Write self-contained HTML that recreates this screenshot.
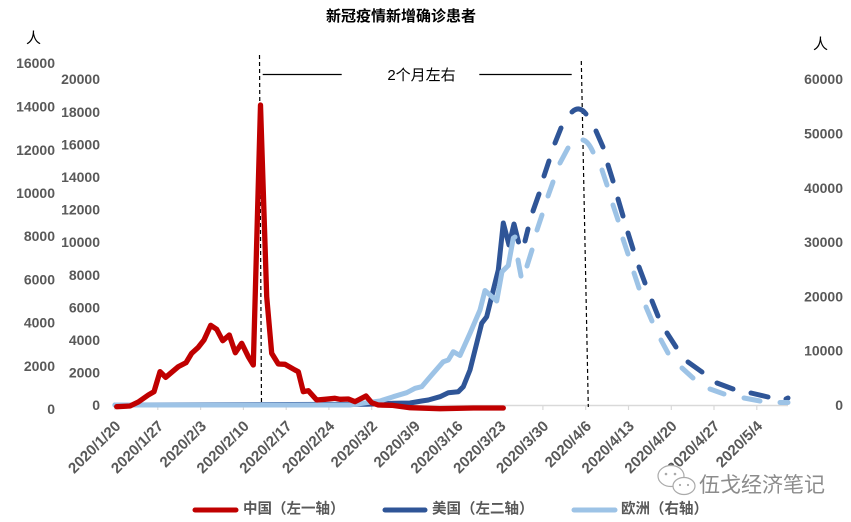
<!DOCTYPE html>
<html><head><meta charset="utf-8"><style>
html,body{margin:0;padding:0;background:#fff;}
svg{display:block;}
text{font-family:"Liberation Sans","Noto Sans CJK SC",sans-serif;}
.ax{font-size:14px;font-weight:bold;fill:#595959;}
.xt{font-size:15px;font-weight:bold;fill:#595959;}
.lg{font-size:14.5px;font-weight:bold;fill:#595959;}
</style></head><body>
<svg width="851" height="522" viewBox="0 0 851 522" xmlns="http://www.w3.org/2000/svg">
<rect width="851" height="522" fill="#fff"/>
<text x="401" y="21" text-anchor="middle" font-size="15" font-weight="bold" fill="#000">新冠疫情新增确诊患者</text>
<text x="33.5" y="43" text-anchor="middle" font-size="15" fill="#000">人</text>
<text x="820.5" y="49" text-anchor="middle" font-size="15" fill="#000">人</text>

<!-- left axis 1 (China) -->
<g class="ax" text-anchor="end">
<text x="55" y="68">16000</text>
<text x="55" y="111.6">14000</text>
<text x="55" y="154.8">12000</text>
<text x="55" y="198">10000</text>
<text x="55" y="241.2">8000</text>
<text x="55" y="284.4">6000</text>
<text x="55" y="327.6">4000</text>
<text x="55" y="370.8">2000</text>
<text x="55" y="414">0</text>
</g>
<!-- left axis 2 (US) -->
<g class="ax" text-anchor="end">
<text x="100" y="84.2">20000</text>
<text x="100" y="116.8">18000</text>
<text x="100" y="149.4">16000</text>
<text x="100" y="182">14000</text>
<text x="100" y="214.6">12000</text>
<text x="100" y="247.2">10000</text>
<text x="100" y="279.8">8000</text>
<text x="100" y="312.4">6000</text>
<text x="100" y="345">4000</text>
<text x="100" y="377.6">2000</text>
<text x="100" y="410.2">0</text>
</g>
<!-- right axis -->
<g class="ax" text-anchor="end">
<text x="843" y="84.2">60000</text>
<text x="843" y="138.5">50000</text>
<text x="843" y="192.8">40000</text>
<text x="843" y="247.1">30000</text>
<text x="843" y="301.4">20000</text>
<text x="843" y="355.7">10000</text>
<text x="843" y="410">0</text>
</g>

<!-- x axis -->
<line x1="115" y1="405.5" x2="788" y2="405.5" stroke="#D9D9D9" stroke-width="1.5"/>
<g stroke="#D9D9D9" stroke-width="1.2">
<line x1="115" y1="405" x2="115" y2="410"/>
<line x1="157.8" y1="405" x2="157.8" y2="410"/>
<line x1="200.6" y1="405" x2="200.6" y2="410"/>
<line x1="243.4" y1="405" x2="243.4" y2="410"/>
<line x1="286.2" y1="405" x2="286.2" y2="410"/>
<line x1="328.9" y1="405" x2="328.9" y2="410"/>
<line x1="371.7" y1="405" x2="371.7" y2="410"/>
<line x1="414.5" y1="405" x2="414.5" y2="410"/>
<line x1="457.3" y1="405" x2="457.3" y2="410"/>
<line x1="500.1" y1="405" x2="500.1" y2="410"/>
<line x1="542.9" y1="405" x2="542.9" y2="410"/>
<line x1="585.7" y1="405" x2="585.7" y2="410"/>
<line x1="628.5" y1="405" x2="628.5" y2="410"/>
<line x1="671.3" y1="405" x2="671.3" y2="410"/>
<line x1="714" y1="405" x2="714" y2="410"/>
<line x1="756.8" y1="405" x2="756.8" y2="410"/>
</g>
<g class="xt" text-anchor="end">
<text transform="translate(121.5,427) rotate(-45)">2020/1/20</text>
<text transform="translate(164.3,427) rotate(-45)">2020/1/27</text>
<text transform="translate(207.1,427) rotate(-45)">2020/2/3</text>
<text transform="translate(249.9,427) rotate(-45)">2020/2/10</text>
<text transform="translate(292.7,427) rotate(-45)">2020/2/17</text>
<text transform="translate(335.4,427) rotate(-45)">2020/2/24</text>
<text transform="translate(378.2,427) rotate(-45)">2020/3/2</text>
<text transform="translate(421,427) rotate(-45)">2020/3/9</text>
<text transform="translate(463.8,427) rotate(-45)">2020/3/16</text>
<text transform="translate(506.6,427) rotate(-45)">2020/3/23</text>
<text transform="translate(549.4,427) rotate(-45)">2020/3/30</text>
<text transform="translate(592.2,427) rotate(-45)">2020/4/6</text>
<text transform="translate(635,427) rotate(-45)">2020/4/13</text>
<text transform="translate(677.8,427) rotate(-45)">2020/4/20</text>
<text transform="translate(720.5,427) rotate(-45)">2020/4/27</text>
<text transform="translate(763.3,427) rotate(-45)">2020/5/4</text>
</g>

<!-- annotation -->
<line x1="259.5" y1="55" x2="261.5" y2="407" stroke="#000" stroke-width="1.2" stroke-dasharray="4,3"/>
<line x1="581.3" y1="61" x2="588.3" y2="407" stroke="#000" stroke-width="1.2" stroke-dasharray="4,3"/>
<line x1="262.7" y1="74.5" x2="341.7" y2="74.5" stroke="#000" stroke-width="1.2"/>
<line x1="479.3" y1="74.5" x2="571.7" y2="74.5" stroke="#000" stroke-width="1.2"/>
<text x="421.5" y="80" text-anchor="middle" font-size="15" fill="#000">2个月左右</text>

<!-- US solid -->
<polyline fill="none" stroke="#2F5597" stroke-width="5" stroke-linejoin="round" stroke-linecap="round"
points="115,405 366.7,404.3 393.3,403.3 410,403 421.7,401 428.3,400 440,396.7 448.3,392.7 458.3,391.7 463.3,386.7 470,370 476.7,343.3 481.7,323.3 486.7,316.7 493.3,290 498.3,270 503.3,223 509,245 514,224 518.5,242"/>
<!-- US dashed -->
<g fill="none" stroke="#2F5597" stroke-width="5" stroke-linecap="round">
<line x1="525" y1="241" x2="528" y2="229"/>
<line x1="533" y1="211" x2="539" y2="194"/>
<line x1="544" y1="176" x2="549" y2="161"/>
<line x1="555" y1="143" x2="561" y2="128"/>
<path d="M572,112 Q579,105 586,114"/>
<line x1="596" y1="131" x2="603" y2="147"/>
<line x1="608" y1="165" x2="613" y2="181"/>
<line x1="618" y1="199" x2="623" y2="216"/>
<line x1="628" y1="233" x2="633" y2="249"/>
<line x1="639" y1="267" x2="645" y2="283"/>
<line x1="652" y1="301" x2="658" y2="316"/>
<line x1="667" y1="333" x2="676" y2="347"/>
<line x1="688" y1="362" x2="702" y2="372"/>
<line x1="717" y1="383" x2="733" y2="389"/>
<line x1="751" y1="393" x2="768" y2="397"/>
<line x1="786" y1="399" x2="788" y2="398"/>
</g>

<!-- EU solid -->
<polyline fill="none" stroke="#9DC3E6" stroke-width="5" stroke-linejoin="round" stroke-linecap="round"
points="115,405 350,405 366.7,402.7 380,401 393.3,396.7 406.7,392.7 415,388.3 421.7,386.7 431.7,375 443.3,361.7 448.3,360 453.3,351.7 460,355.5 470,333.3 480,310 485,290.5 496.7,301 502,271.7 508.3,265.5 513.3,238 515,237"/>
<!-- EU dashed -->
<g fill="none" stroke="#9DC3E6" stroke-width="5" stroke-linecap="round">
<line x1="518" y1="260" x2="521" y2="276"/>
<line x1="527" y1="266" x2="532" y2="250"/>
<line x1="537" y1="230" x2="542" y2="215"/>
<line x1="548" y1="196" x2="553" y2="182"/>
<line x1="560" y1="163" x2="568" y2="148"/>
<path d="M583,140 Q588,141 593,152"/>
<line x1="602" y1="170" x2="607" y2="185"/>
<line x1="613" y1="205" x2="618" y2="220"/>
<line x1="623" y1="239" x2="628" y2="254"/>
<line x1="634" y1="273" x2="639" y2="288"/>
<line x1="646" y1="307" x2="652" y2="321"/>
<line x1="661" y1="340" x2="668" y2="353"/>
<line x1="682" y1="368" x2="693" y2="378"/>
<line x1="710" y1="389" x2="724" y2="394"/>
<line x1="744" y1="398" x2="760" y2="401"/>
<line x1="780" y1="402.5" x2="788" y2="402.5"/>
</g>

<!-- China -->
<polyline fill="none" stroke="#C00000" stroke-width="5.3" stroke-linejoin="round" stroke-linecap="round"
points="116.7,406.7 130,406 138.3,402 148.3,395 154,391.7 160,371.7 165.7,377.3 178.3,366.7 186,362.7 191.7,353.3 198.3,347.3 204,340 210.7,325.3 216.7,329.3 222.7,340.7 229.3,335 235.3,352.7 241.7,343.3 248.3,356.7 253.3,365 260.5,105 266.7,296.7 271.7,353.3 278.3,364 285,364.3 295,370 298.3,371.7 303.3,391.7 308.3,390.7 316.7,400 325,399.3 335,398.3 340,399.3 348.3,399 355,401.7 366,396 371.7,402.7 378.3,405 391.7,405.3 410,407.7 440,408.7 473.3,408 503.3,408"/>

<!-- legend -->
<line x1="195" y1="510" x2="236" y2="510" stroke="#C00000" stroke-width="5" stroke-linecap="round"/>
<text class="lg" x="243" y="513.5">中国（左一轴）</text>
<line x1="385" y1="510" x2="425" y2="510" stroke="#2F5597" stroke-width="5" stroke-linecap="round"/>
<text class="lg" x="432" y="513.5">美国（左二轴）</text>
<line x1="574" y1="510" x2="615" y2="510" stroke="#9DC3E6" stroke-width="5" stroke-linecap="round"/>
<text class="lg" x="621" y="513.5">欧洲（右轴）</text>

<!-- watermark -->
<g fill="#fff" stroke="#aaa" stroke-width="1.2">
<ellipse cx="671" cy="476" rx="13" ry="10.5"/>
<ellipse cx="684" cy="486" rx="11" ry="8.5"/>
</g>
<g fill="#aaa">
<circle cx="666" cy="474" r="1.3"/><circle cx="675" cy="474" r="1.3"/>
<circle cx="680" cy="485" r="1.1"/><circle cx="688" cy="485" r="1.1"/>
</g>
<text x="699" y="492" font-size="21" fill="#8c8c8c">伍戈经济笔记</text>
</svg>
</body></html>
